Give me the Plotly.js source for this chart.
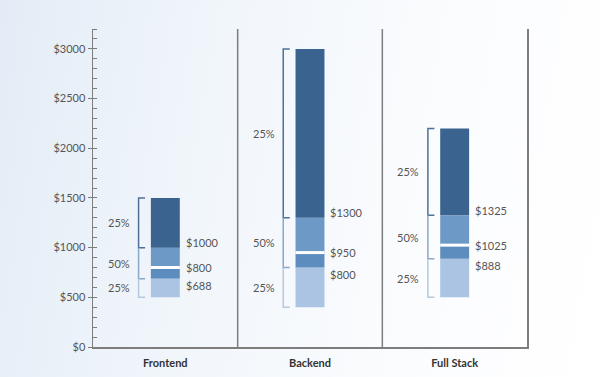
<!DOCTYPE html>
<html>
<head>
<meta charset="utf-8">
<script src="https://cdn.plot.ly/plotly-3.0.1.min.js"></script>
<style>
  html, body { margin: 0; padding: 0; }
  body { width: 600px; height: 377px; background: linear-gradient(100deg, #e3ecf6 0%, #f1f6fb 35%, #fbfcfe 70%, #ffffff 100%); }
  #chart { width: 600px; height: 377px; }
</style>
</head>
<body>
<div id="chart"></div>
<script>
// ---- data ----
const categories = ['Frontend', 'Backend', 'Full Stack'];
const minVals    = [500, 400, 500];
const q1Vals     = [688, 800, 888];
const medianVals = [800, 950, 1025];
const q3Vals     = [1000, 1300, 1325];
const maxVals    = [1500, 3000, 2200];
const shareLabels = ['25%', '50%', '25%'];
const yTickVals  = [0, 500, 1000, 1500, 2000, 2500, 3000];
const yTickText  = ['$0', '$500', '$1000', '$1500', '$2000', '$2500', '$3000'];

// ---- style ----
const xs = categories.map((c, i) => i);
const barW = 0.2;
const cDark = '#3a6390', cMid = '#6d99c7', cMidLow = '#5d8dbf', cLight = '#abc4e3';
const bTop = '#4d7197', bMid = '#8ba9ca', bLow = '#b6c9de';
const font = 'Lato, "Noto Sans", sans-serif';

function seg(base, top, color, name) {
  return {
    type: 'bar', x: xs, base: base, y: top.map((t, i) => t - base[i]),
    width: barW, marker: { color: color, line: { width: 0 } },
    name: name, showlegend: false, hoverinfo: 'skip'
  };
}

const traces = [
  seg(minVals, q1Vals, cLight, 'low'),
  seg(q1Vals, medianVals, cMidLow, 'q1-med'),
  seg(medianVals, q3Vals, cMid, 'med-q3'),
  seg(q3Vals, maxVals, cDark, 'high')
];

// brackets
const bx = -0.185, tick = 0.045;
function bracketTrace(pathsFn, color) {
  const X = [], Y = [];
  xs.forEach((x, i) => {
    const p = pathsFn(i);
    p.forEach(pt => { X.push(x + pt[0]); Y.push(pt[1]); });
    X.push(null); Y.push(null);
  });
  return { type: 'scatter', mode: 'lines', x: X, y: Y, line: { color: color, width: 1.5 },
           showlegend: false, hoverinfo: 'skip', cliponaxis: false };
}
traces.push(bracketTrace(i => [[bx + tick, maxVals[i]], [bx, maxVals[i]], [bx, q3Vals[i]], [bx + tick, q3Vals[i]]], bTop));
traces.push(bracketTrace(i => [[bx, q3Vals[i]], [bx, q1Vals[i]], [bx + tick, q1Vals[i]]], bMid));
traces.push(bracketTrace(i => [[bx, q1Vals[i]], [bx, minVals[i]], [bx + tick, minVals[i]]], bLow));

// shapes: dividers + median white gaps
const shapes = [];
[0.5, 1.5].forEach(d => shapes.push({
  type: 'line', xref: 'x', yref: 'paper', x0: d, x1: d, y0: 0, y1: 1,
  line: { color: '#7d7d7d', width: 1.5 }
}));
xs.forEach((x, i) => shapes.push({
  type: 'line', xref: 'x', yref: 'y', x0: x - barW / 2, x1: x + barW / 2,
  y0: medianVals[i], y1: medianVals[i], line: { color: '#ffffff', width: 3 }
}));

// annotations
const annotations = [];
const labFont = { family: font, size: 11, color: '#555555' };
xs.forEach((x, i) => {
  const mids = [(maxVals[i] + q3Vals[i]) / 2, (q3Vals[i] + q1Vals[i]) / 2, (q1Vals[i] + minVals[i]) / 2];
  mids.forEach((m, k) => annotations.push({
    x: x - 0.32, y: m, xref: 'x', yref: 'y', text: shareLabels[k], showarrow: false,
    xanchor: 'center', yanchor: 'middle', font: labFont
  }));
  [[q3Vals[i], 5], [medianVals[i], 0], [q1Vals[i], -7]].forEach(([v, sh]) => annotations.push({
    x: x + barW / 2, y: v, xref: 'x', yref: 'y', text: '$' + v, showarrow: false,
    xanchor: 'left', yanchor: 'middle', xshift: 4, yshift: sh, font: labFont
  }));
});

const layout = {
  width: 600, height: 377,
  margin: { l: 93, r: 73, t: 29, b: 30 },
  paper_bgcolor: 'rgba(0,0,0,0)', plot_bgcolor: 'rgba(0,0,0,0)',
  barmode: 'overlay', showlegend: false,
  font: { family: font, color: '#555555' },
  xaxis: {
    range: [-0.5, 2.5], tickvals: xs, ticktext: categories.map(c => '<b>' + c + '</b>'),
    showgrid: false, zeroline: false, showline: true, linecolor: '#7d7d7d', linewidth: 1.5,
    ticks: 'outside', ticklen: 5, tickcolor: 'rgba(0,0,0,0)',
    tickfont: { family: font, size: 11, color: '#333333' }, fixedrange: true
  },
  yaxis: {
    range: [0, 3200], tickvals: yTickVals, ticktext: yTickText,
    showgrid: false, zeroline: false, showline: true, linecolor: '#7d7d7d', linewidth: 1.5,
    mirror: true, ticks: 'outside', ticklen: 4, tickcolor: '#7d7d7d', tickwidth: 1,
    minor: { dtick: 100, ticks: 'inside', ticklen: 4, tickcolor: '#7d7d7d', tickwidth: 1, showgrid: false },
    tickfont: { family: font, size: 11, color: '#555555' }, fixedrange: true
  },
  shapes: shapes,
  annotations: annotations
};

Plotly.newPlot('chart', traces, layout, { displayModeBar: false, staticPlot: true });
</script>
</body>
</html>
